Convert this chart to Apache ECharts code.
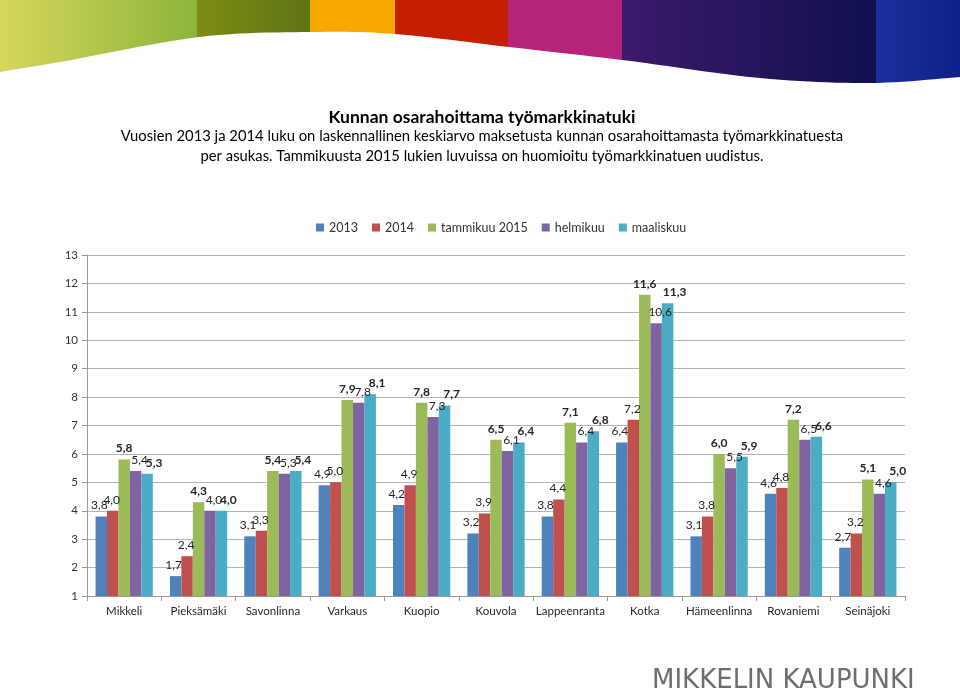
<!DOCTYPE html>
<html><head><meta charset="utf-8">
<script src="https://cdn.jsdelivr.net/npm/echarts@6/dist/echarts.min.js"></script>
<style>html,body{margin:0;padding:0;background:#fff}#c{width:960px;height:697px}</style>
</head><body><div id="c"></div>
<script>
var categories = ['Mikkeli','Pieksämäki','Savonlinna','Varkaus','Kuopio','Kouvola','Lappeenranta','Kotka','Hämeenlinna','Rovaniemi','Seinäjoki'];
var seriesNames = ['2013','2014','tammikuu 2015','helmikuu','maaliskuu'];
var v2013 = [3.8,1.7,3.1,4.9,4.2,3.2,3.8,6.4,3.1,4.6,2.7];
var v2014 = [4.0,2.4,3.3,5.0,4.9,3.9,4.4,7.2,3.8,4.8,3.2];
var vTammi = [5.8,4.3,5.4,7.9,7.8,6.5,7.1,11.6,6.0,7.2,5.1];
var vHelmi = [5.4,4.0,5.3,7.8,7.3,6.1,6.4,10.6,5.5,6.5,4.6];
var vMaalis = [5.3,4.0,5.4,8.1,7.7,6.4,6.8,11.3,5.9,6.6,5.0];
var yTicks = [1,2,3,4,5,6,7,8,9,10,11,12,13];

var colors = ['#4F81BD','#C0504D','#9BBB59','#8064A2','#4BACC6'];
var values = [v2013,v2014,vTammi,vHelmi,vMaalis];
var bold = [false,false,true,false,true];
var offs = [[-2,0],[-1,0],[0,0],[4,0],[7,0]];
var FONT = 'Lato';

var series = values.map(function(d,i){
  return {
    name: seriesNames[i], type:'bar', data:d, barGap:'0%', barCategoryGap:'23%',
    itemStyle:{color:colors[i]},
    label:{show:true, position:'top', distance:5, offset:offs[i], fontFamily:FONT, fontSize:12,
      color:'#262626', fontWeight: bold[i]?'bold':'normal',
      formatter:function(p){return p.value.toFixed(1).replace('.',',');}}
  };
});

function grad(c1,c2){return {type:'linear',x:0,y:0,x2:1,y2:0,colorStops:[{offset:0,color:c1},{offset:1,color:c2}]};}

// decorative white swoosh: Catmull-Rom through a few knots
var knots = [[-40,80],[0,72],[60,62],[199,37],[311,32],[395,34],[509,47],[622,60],[760,78],[870,83],[960,77],[1000,74]];
var swoosh = [];
for (var k=1;k<knots.length-2;k++){
  var p0=knots[k-1],p1=knots[k],p2=knots[k+1],p3=knots[k+2];
  for (var s=0;s<12;s++){var t=s/12,t2=t*t,t3=t2*t;
    swoosh.push([0,1].map(function(j){return 0.5*((2*p1[j])+(-p0[j]+p2[j])*t+(2*p0[j]-5*p1[j]+4*p2[j]-p3[j])*t2+(-p0[j]+3*p1[j]-3*p2[j]+p3[j])*t3);}));}
}
swoosh.push([960,77]); swoosh.push([960,100]); swoosh.push([0,100]);

var chart = echarts.init(document.getElementById('c'));
chart.setOption({
  animation:false,
  color:colors,
  textStyle:{fontFamily:FONT},
  legend:{data:seriesNames, top:216, left:311, itemWidth:8, itemHeight:8, itemGap:14, icon:'rect',
    textStyle:{fontFamily:FONT,fontSize:12.5,color:'#333'}},
  grid:{left:87, top:255, width:818, bottom:101, containLabel:false},
  xAxis:{type:'category', data:categories,
    axisLine:{lineStyle:{color:'#999'}},
    axisTick:{show:true, alignWithLabel:false, length:5, lineStyle:{color:'#999'}},
    axisLabel:{fontFamily:FONT,fontSize:11.5,color:'#262626',margin:9, interval:0}},
  yAxis:{type:'value', min:1, max:13, interval:1,
    axisLine:{show:true,lineStyle:{color:'#999'}},
    axisTick:{show:true,length:5,lineStyle:{color:'#999'}},
    splitLine:{lineStyle:{color:'#b3b3b3'}},
    axisLabel:{fontFamily:FONT,fontSize:11.5,color:'#333',margin:9}},
  series:series,
  graphic:[
    {type:'rect', shape:{x:0,y:0,width:198,height:95}, style:{fill:grad('#d6d65c','#8cb53a')}, silent:true},
    {type:'rect', shape:{x:197,y:0,width:114,height:95}, style:{fill:grad('#7f8c12','#5d7414')}, silent:true},
    {type:'rect', shape:{x:310,y:0,width:86,height:95}, style:{fill:'#f6a800'}, silent:true},
    {type:'rect', shape:{x:395,y:0,width:114,height:95}, style:{fill:'#c51f02'}, silent:true},
    {type:'rect', shape:{x:508,y:0,width:115,height:95}, style:{fill:'#b6237b'}, silent:true},
    {type:'rect', shape:{x:622,y:0,width:255,height:95}, style:{fill:grad('#3b1a6c','#11104d')}, silent:true},
    {type:'rect', shape:{x:876,y:0,width:84,height:95}, style:{fill:grad('#1c2f9c','#0f1f8a')}, silent:true},
    {type:'polygon', shape:{points:swoosh}, style:{fill:'#fff'}, silent:true},
    {type:'text', x:482, y:108, style:{text:'Kunnan osarahoittama työmarkkinatuki', fontFamily:FONT, fontSize:17.5, fontWeight:'bold', fill:'#000', textAlign:'center'}, silent:true},
    {type:'text', x:482, y:129, style:{text:'Vuosien 2013 ja 2014 luku on laskennallinen keskiarvo maksetusta kunnan osarahoittamasta työmarkkinatuesta', fontFamily:FONT, fontSize:14.8, fill:'#000', textAlign:'center'}, silent:true},
    {type:'text', x:482, y:149, style:{text:'per asukas. Tammikuusta 2015 lukien luvuissa on huomioitu työmarkkinatuen uudistus.', fontFamily:FONT, fontSize:14.8, fill:'#000', textAlign:'center'}, silent:true},
    {type:'text', x:652, y:668, style:{text:'MIKKELIN KAUPUNKI', fontFamily:'DejaVu Sans', fontSize:26, fill:'#6e6e6e'}, silent:true}
  ]
});
</script></body></html>
